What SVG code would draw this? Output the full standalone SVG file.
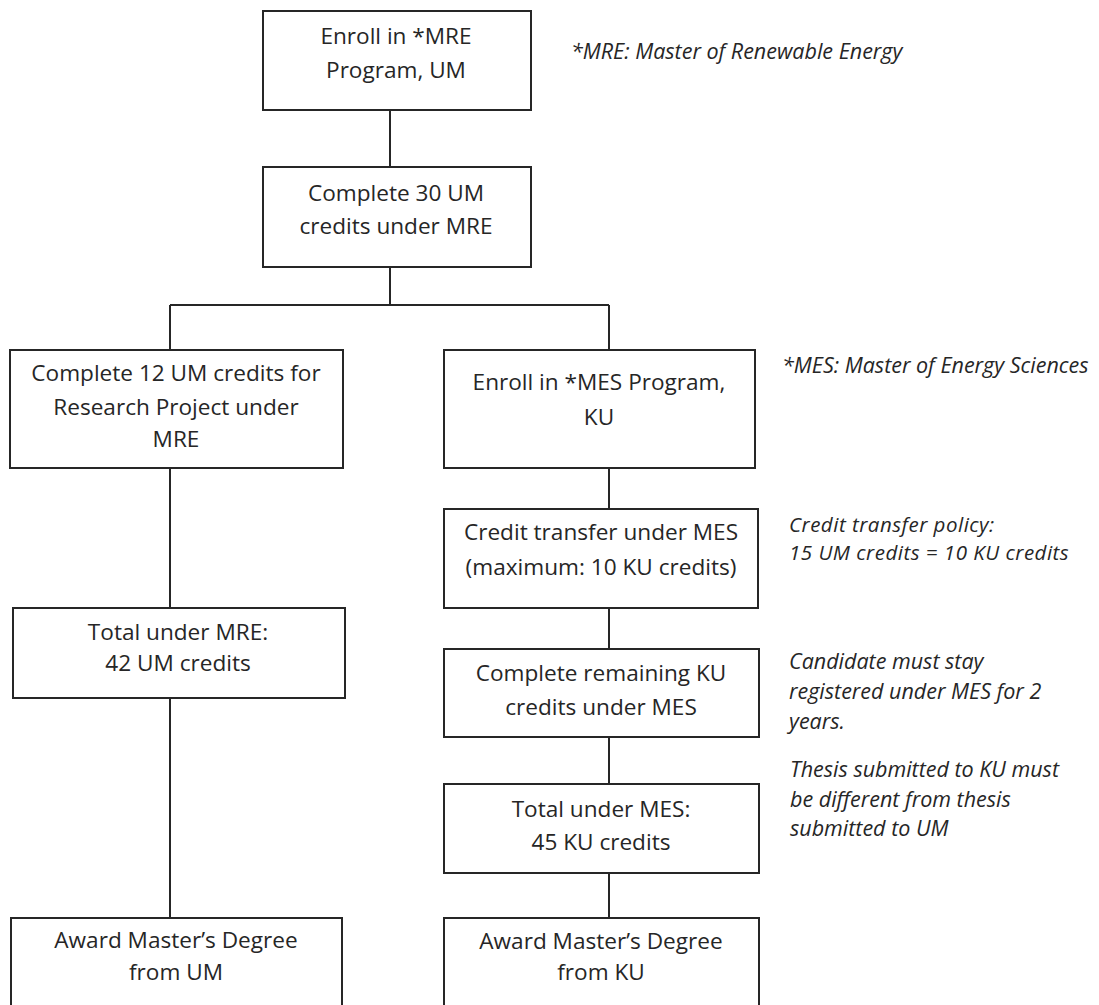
<svg xmlns="http://www.w3.org/2000/svg" width="1099" height="1005" viewBox="0 0 1099 1005">
<style>
.box{fill:#fff;stroke:#262626;stroke-width:2}
.t{font-family:"Open Sans","Liberation Sans",sans-serif;font-size:22.6px;fill:#262626;text-anchor:middle}
.n{font-family:"Open Sans","Liberation Sans",sans-serif;font-size:21.5px;font-style:italic;fill:#262626}
.ns{font-size:20.5px;letter-spacing:0.5px}
.c{fill:none;stroke:#262626;stroke-width:2}
</style>
<rect width="1099" height="1005" fill="#fff"/>
<g id="connectors">
<path class="c" d="M390 110V167M390 267V305M170 305H609M170 305V350M609 305V350M170 468V608M170 698V918M609 468V509M609 608V649M609 737V784M609 873V918"/>
</g>
<g id="n1"><rect class="box" x="263" y="11" width="268" height="99"/>
<text class="t" x="396" y="44">Enroll in *MRE</text><text class="t" x="396" y="78">Program, UM</text></g>
<g id="n2"><rect class="box" x="263" y="167" width="268" height="100"/>
<text class="t" x="396" y="201">Complete 30 UM</text><text class="t" x="396" y="234">credits under MRE</text></g>
<g id="n3"><rect class="box" x="10" y="350" width="333" height="118"/>
<text class="t" x="176" y="381">Complete 12 UM credits for</text><text class="t" x="176" y="415">Research Project under</text><text class="t" x="176" y="447">MRE</text></g>
<g id="n4"><rect class="box" x="444" y="350" width="311" height="118"/>
<text class="t" x="599" y="390">Enroll in *MES Program,</text><text class="t" x="599" y="425">KU</text></g>
<g id="n5"><rect class="box" x="444" y="509" width="314" height="99"/>
<text class="t" x="601" y="540">Credit transfer under MES</text><text class="t" x="601" y="575">(maximum: 10 KU credits)</text></g>
<g id="n6"><rect class="box" x="444" y="649" width="315" height="88"/>
<text class="t" x="601" y="681">Complete remaining KU</text><text class="t" x="601" y="715">credits under MES</text></g>
<g id="n7"><rect class="box" x="444" y="784" width="315" height="89"/>
<text class="t" x="601" y="817">Total under MES:</text><text class="t" x="601" y="850">45 KU credits</text></g>
<g id="n8"><rect class="box" x="444" y="918" width="315" height="95"/>
<text class="t" x="601" y="949">Award Master’s Degree</text><text class="t" x="601" y="980">from KU</text></g>
<g id="n9"><rect class="box" x="13" y="608" width="332" height="90"/>
<text class="t" x="178" y="640">Total under MRE:</text><text class="t" x="178" y="671">42 UM credits</text></g>
<g id="n10"><rect class="box" x="11" y="918" width="331" height="95"/>
<text class="t" x="176" y="948">Award Master’s Degree</text><text class="t" x="176" y="980">from UM</text></g>
<g id="notes">
<text class="n" x="571" y="59">*MRE: Master of Renewable Energy</text>
<text class="n" x="782" y="373">*MES: Master of Energy Sciences</text>
<text class="n ns" x="789" y="532">Credit transfer policy:</text>
<text class="n ns" x="789" y="560">15 UM credits = 10 KU credits</text>
<text class="n" x="789" y="669">Candidate must stay</text>
<text class="n" x="789" y="699">registered under MES for 2</text>
<text class="n" x="789" y="729">years.</text>
<text class="n" x="790" y="777">Thesis submitted to KU must</text>
<text class="n" x="790" y="807">be different from thesis</text>
<text class="n" x="790" y="836">submitted to UM</text>
</g>
</svg>
